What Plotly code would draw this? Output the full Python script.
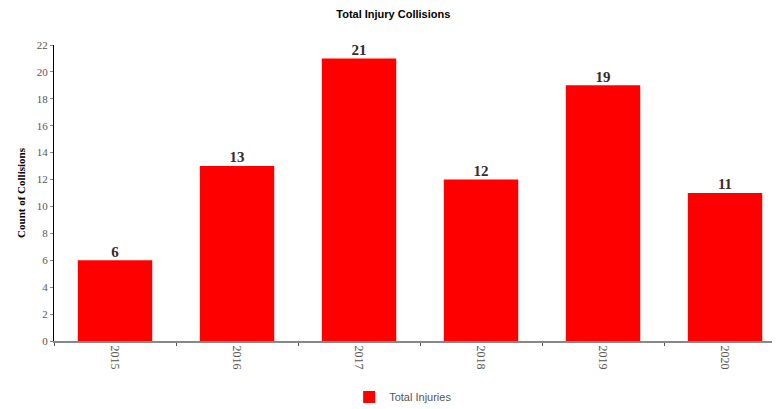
import plotly.graph_objects as go

years = ["2015", "2016", "2017", "2018", "2019", "2020"]
total_injuries = [6, 13, 21, 12, 19, 11]

fig = go.Figure()

fig.add_trace(go.Bar(
    x=years,
    y=total_injuries,
    name="Total Injuries",
    marker=dict(color="#ff0000", line=dict(width=0)),
    showlegend=True,
))

# value labels sit right on top of each bar
fig.add_trace(go.Scatter(
    x=years,
    y=total_injuries,
    mode="text",
    text=[f"<b>{v}</b>" for v in total_injuries],
    textposition="top center",
    textfont=dict(family="Times New Roman, Liberation Serif, serif", size=15, color="#3a2a2a"),
    cliponaxis=False,
    showlegend=False,
    hoverinfo="skip",
))

# page body has an 8px default margin, so the figure is shifted by 8px
fig.update_layout(
    width=780,
    height=401,
    margin=dict(l=46, r=2, t=37, b=68, autoexpand=False),
    paper_bgcolor="white",
    plot_bgcolor="white",
    bargap=0.39,
    title=dict(
        text="<b>Total Injury Collisions</b>",
        x=0.494,
        xanchor="center",
        y=0.985,
        yanchor="middle",
        font=dict(family="Arial, Liberation Sans, sans-serif", size=11, color="#000000"),
    ),
    showlegend=True,
    legend=dict(
        orientation="h",
        x=0.477,
        xanchor="center",
        y=-0.14,
        yanchor="top",
        itemwidth=30,
        font=dict(family="Arial, Liberation Sans, sans-serif", size=11, color="#555555"),
    ),
    xaxis=dict(
        type="category",
        tickangle=90,
        showline=True,
        linecolor="#888888",
        linewidth=2,
        showgrid=False,
        ticks="outside",
        tickson="boundaries",
        ticklen=3,
        tickcolor="#555555",
        automargin=False,
        tickfont=dict(family="Times New Roman, Liberation Serif, serif", size=12, color="#555555"),
    ),
    yaxis=dict(
        range=[0, 22],
        dtick=2,
        showline=True,
        linecolor="#000000",
        linewidth=1,
        showgrid=False,
        zeroline=False,
        ticks="outside",
        ticklen=3,
        tickcolor="#888888",
        automargin=False,
        tickfont=dict(family="Times New Roman, Liberation Serif, serif", size=11, color="#555555"),
        title=dict(
            text="<b>Count of Collisions</b>",
            standoff=8,
            font=dict(family="Times New Roman, Liberation Serif, serif", size=11, color="#000000"),
        ),
    ),
)

fig.write_html("out.html")
